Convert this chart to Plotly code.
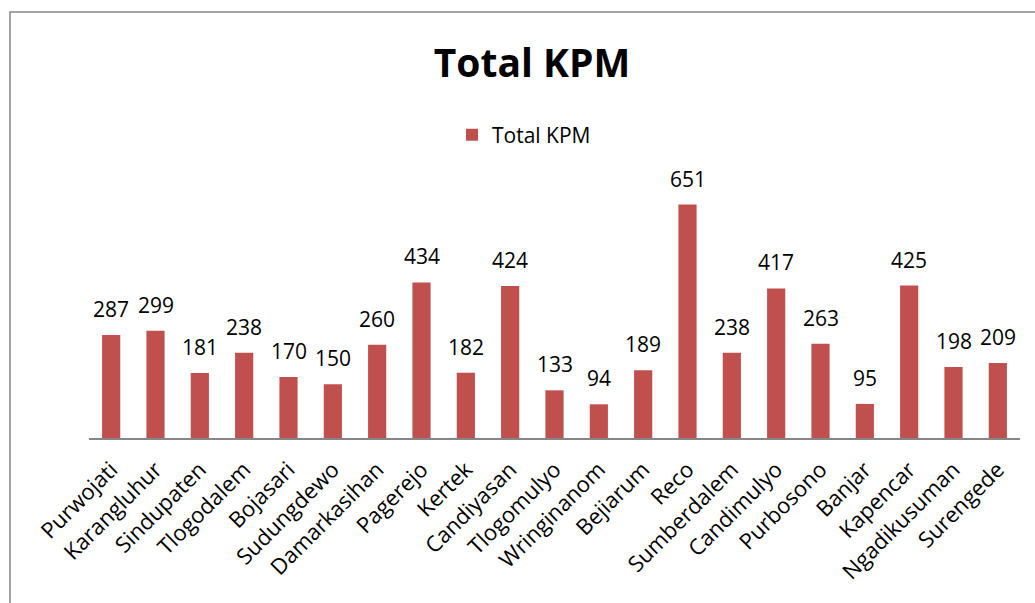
import plotly.graph_objects as go

categories = ["Purwojati", "Karangluhur", "Sindupaten", "Tlogodalem", "Bojasari",
              "Sudungdewo", "Damarkasihan", "Pagerejo", "Kertek", "Candiyasan",
              "Tlogomulyo", "Wringinanom", "Bejiarum", "Reco", "Sumberdalem",
              "Candimulyo", "Purbosono", "Banjar", "Kapencar", "Ngadikusuman", "Surengede"]
values = [287, 299, 181, 238, 170, 150, 260, 434, 182, 424, 133, 94, 189, 651,
          238, 417, 263, 95, 425, 198, 209]
series_name = "Total KPM"

W, H = 1035, 603
ml, mr, mt, mb = 89, 15, 187, 165
pw = W - ml - mr
ph = H - mt - mb

fig = go.Figure()
fig.add_trace(go.Bar(
    x=categories, y=values, name=series_name,
    marker=dict(color="#C0504D", line=dict(width=0)),
    cliponaxis=False,
))

# data labels through the axis scales
for c, v in zip(categories, values):
    fig.add_annotation(x=c, y=v, text=str(v), showarrow=False,
                       xanchor="center", yanchor="middle", yshift=26,
                       font=dict(family="Open Sans", size=21, color="#000000"))

# outer chart border (Excel chart area), cropped at right/bottom
fig.add_shape(type="rect", xref="paper", yref="paper",
              x0=(10 - ml) / pw, x1=(W + 20 - ml) / pw,
              y0=-(H + 20 - mt - ph) / ph, y1=(H - 12 - mb) / ph,
              line=dict(color="#868686", width=1.5), fillcolor="rgba(0,0,0,0)", layer="below")

fig.update_layout(
    width=W, height=H,
    margin=dict(l=ml, r=mr, t=mt, b=mb, autoexpand=False),
    paper_bgcolor="white", plot_bgcolor="white",
    bargap=0.59,
    title=dict(text="<b>Total KPM</b>", x=532 / W, xanchor="center",
               y=1 - 63 / H, yanchor="middle",
               font=dict(family="Open Sans", size=39, color="#000000")),
    showlegend=True,
    legend=dict(orientation="h", x=(452 - ml) / pw, xanchor="left",
                y=1 + (mt - 135) / ph, yanchor="middle",
                font=dict(family="Open Sans", size=21, color="#000000"),
                bgcolor="rgba(0,0,0,0)"),
    xaxis=dict(tickangle=-45, showline=True, linecolor="#868686", linewidth=2,
               ticks="", tickfont=dict(family="Open Sans", size=22, color="#000000"),
               ticklabelstandoff=8,
               showgrid=False, automargin=False),
    yaxis=dict(range=[0, 700], visible=False, showgrid=False),
)

fig.write_html("out.html", config={"displayModeBar": False},
               post_script="document.body.style.margin='0';document.body.style.overflow='hidden';")
